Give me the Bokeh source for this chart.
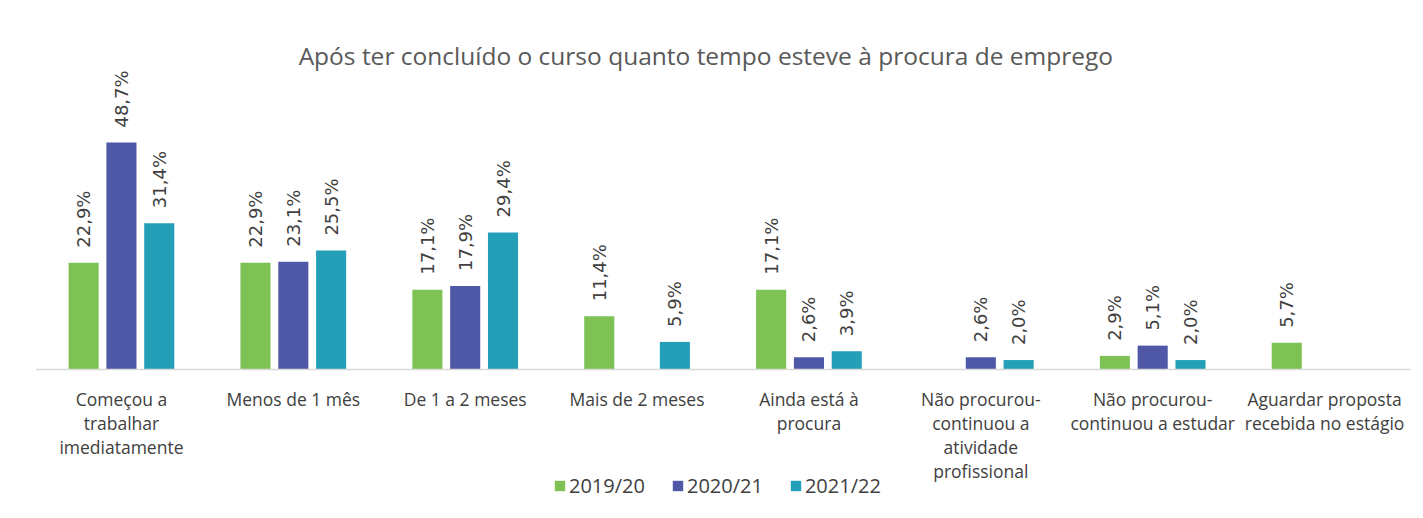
import math
from bokeh.plotting import figure
from bokeh.models import ColumnDataSource, FactorRange, Range1d, Label, Legend, LegendItem, Span
from bokeh.transform import dodge
from bokeh.core.properties import value
from bokeh.embed import file_html
from bokeh.resources import INLINE

categories = [
    "Começou a\ntrabalhar\nimediatamente",
    "Menos de 1 mês",
    "De 1 a 2 meses",
    "Mais de 2 meses",
    "Ainda está à\nprocura",
    "Não procurou-\ncontinuou a\natividade\nprofissional",
    "Não procurou-\ncontinuou a estudar",
    "Aguardar proposta\nrecebida no estágio",
]
series = ["2019/20", "2020/21", "2021/22"]
v2019_20 = [22.9, 22.9, 17.1, 11.4, 17.1, None, 2.9, 5.7]
v2020_21 = [48.7, 23.1, 17.9, None, 2.6, 2.6, 5.1, None]
v2021_22 = [31.4, 25.5, 29.4, 5.9, 3.9, 2.0, 2.0, None]
title_text = "Após ter concluído o curso quanto tempo esteve à procura de emprego"

colors = ["#7ec255", "#4f58a6", "#239fb8"]
offsets = [-0.22, 0.0, 0.22]

p = figure(
    x_range=FactorRange(factors=categories, range_padding=0),
    y_range=Range1d(-30.3, 79.2),
    width=1415, height=510,
    min_border_left=35, min_border_right=5, min_border_top=0, min_border_bottom=0,
    output_backend="svg", toolbar_location=None,
)
p.outline_line_color = None
p.xgrid.visible = False
p.ygrid.visible = False
p.yaxis.visible = False
p.xaxis.visible = False
p.background_fill_color = "white"
p.border_fill_color = "white"

# baseline (category axis line)
p.add_layout(Span(location=0, dimension="width", line_color="#d9d9d9", line_width=1.5))

# category labels
cat_src = ColumnDataSource(dict(cat=categories, y=[0] * len(categories)))
p.text(x="cat", y="y", text="cat", source=cat_src, text_align="center",
       text_baseline="top", y_offset=18, text_font=value("Open Sans"),
       text_font_size="17.5px", text_color="#404040", text_line_height=1.0)

renderers = []
for vals, name, col, off in zip([v2019_20, v2020_21, v2021_22], series, colors, offsets):
    cats = [c for c, v in zip(categories, vals) if v is not None]
    vs = [v for v in vals if v is not None]
    labels = [f"{v:.1f}".replace(".", ",") + "%" for v in vs]
    src = ColumnDataSource(dict(cat=cats, val=vs, lab=labels))
    r = p.vbar(x=dodge("cat", off, range=p.x_range), top="val", width=0.175,
               source=src, fill_color=col, line_color=None)
    renderers.append(r)
    p.text(x=dodge("cat", off, range=p.x_range), y="val", text="lab", source=src,
           angle=math.pi / 2, text_align="left", text_baseline="middle",
           y_offset=-15, text_font=value("DejaVu Sans"), text_font_size="18px",
           text_color="#404040")

p.add_layout(Label(x=3.9, y=67.4, text=title_text, text_align="center",
                   text_baseline="middle", text_font="Open Sans",
                   text_font_size="24.5px", text_color="#595959"))

legend = Legend(
    items=[LegendItem(label=s, renderers=[r]) for s, r in zip(series, renderers)],
    orientation="horizontal", location=(518, 11),
    glyph_width=13, glyph_height=13, label_standoff=3, spacing=26,
    label_text_font="Open Sans", label_text_font_size="20px",
    label_text_color="#404040", border_line_color=None,
    background_fill_alpha=0, padding=0, margin=0,
)
p.add_layout(legend, "center")

open("out.html", "w").write(file_html(p, INLINE))
